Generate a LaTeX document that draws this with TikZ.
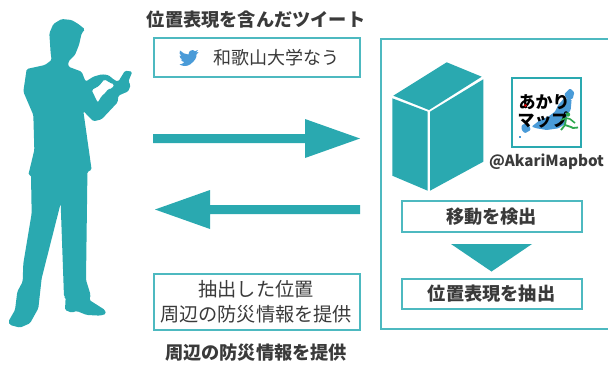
\documentclass[tikz,border=0pt]{standalone}
\usepackage{fontspec}
\setmainfont{Noto Sans CJK JP}
\definecolor{teal1}{HTML}{2AA9B0}
\definecolor{edge1}{HTML}{4DB9C0}
\definecolor{ink}{HTML}{3A3A3A}
\definecolor{blue1}{HTML}{4A9BD8}
\definecolor{green1}{HTML}{2FA84F}
\tikzset{
  x=1pt,y=-1pt,
  solid1/.style={fill=teal1,draw=none},
  panel/.style={draw=edge1,line width=1.7pt,fill=white},
  head1/.style={font=\bfseries\fontsize{18.2}{20}\selectfont,text=ink,inner sep=0pt},
  body1/.style={font=\fontsize{19.2}{25}\selectfont,text=ink,inner sep=0pt,align=center},
  logotext/.style={inner sep=0pt,font=\bfseries\fontsize{17}{18}\selectfont,text=black},
}
\begin{document}
\begin{tikzpicture}
\useasboundingbox (0,0) rectangle (608,365);
% man (reference zoom coordinates /3)
\begin{scope}[x=0.3333pt,y=-0.3333pt]
\fill[teal1,even odd rule,rounded corners=1.5pt]
 (152,160)--(148,100)--(160,72)--(185,57)--(215,60)--(235,72)--(255,88)--(245,100)--(237,135)--(225,165)--(205,185)--(205,200)--(245,215)--(257,245)
 --(280,230)--(305,223)--(325,225)--(343,240)--(355,245)--(375,212)--(397,215)--(385,245)--(392,255)--(385,274)--(355,287)--(353,307)--(305,358)--(280,364)--(250,333)
 --(275,510)--(262,515)--(262,540)--(258,840)--(272,885)--(268,900)--(315,930)--(318,942)--(300,947)--(260,945)--(230,933)--(215,938)--(195,930)--(197,892)--(192,890)
 --(182,610)--(125,835)--(115,925)--(90,970)--(60,983)--(30,975)--(25,965)--(45,930)--(52,875)--(68,845)--(70,790)--(95,640)--(93,525)--(85,525)--(103,450)--(100,345)
 --(70,275)--(80,207)--(135,195)--(155,180)--cycle
 (275,270)--(297,258)--(313,238)--(337,252)--(343,252)--(337,265)--(323,268)--(317,278)--(305,288)--(293,308)--cycle;
\end{scope}
% panels
\node[panel,minimum width=206pt,minimum height=39pt,inner sep=0pt] (tweetbox) at (257,57.5) {};
\draw[panel,line width=2pt] (610,38.5) -- (380.5,38.5) -- (380.5,328.5) -- (610,328.5);
\node[panel,minimum width=206pt,minimum height=56pt,inner sep=0pt] (infobox) at (257,302) {};
\node[panel,minimum width=180pt,minimum height=31pt,inner sep=0pt] (movebox) at (492,216.5) {};
\node[panel,minimum width=180pt,minimum height=30pt,inner sep=0pt] (extractbox) at (492,294) {};
% texts
\node[head1] (title) at (256,20) {位置表現を含んだツイート};
\node[body1,anchor=west,font=\fontsize{18}{24}\selectfont] (tweet) at (213,57.5) {和歌山大学なう};
\node[body1] (info) at (256,302) {抽出した位置\\周辺の防災情報を提供};
\node[head1] (foot) at (256,353) {周辺の防災情報を提供};
\node[head1] (move) at (491.5,216.5) {移動を検出};
\node[head1] (extract) at (491.5,294) {位置表現を抽出};
\node[inner sep=0pt,text=ink,font=\bfseries\fontsize{15.2}{16}\selectfont] (bot) at (546.5,162) {@AkariMapbot};
% twitter bird
\fill[blue1] (179.5,64.5) .. controls (183,66.5) and (187,66.5) .. (190,64.5)
  .. controls (195,61) and (197,57) .. (196.5,54.5) .. controls (197.5,54) and (198,53) .. (198.5,52)
  .. controls (197.5,52.3) and (197,52.5) .. (196,52.5) .. controls (197,52) and (197.5,51) .. (198,50)
  .. controls (197,50.6) and (196,51) .. (195,51.2) .. controls (193,49) and (188.5,50) .. (188.5,54.5)
  .. controls (185,54.5) and (182.5,52.8) .. (180,50.5) .. controls (179,52.5) and (179.5,54.5) .. (181.5,56)
  .. controls (180.5,56) and (180,55.8) .. (179.5,55.5) .. controls (179.5,57.5) and (181,59) .. (182.5,59.5)
  .. controls (182,59.7) and (181.5,59.7) .. (180.8,59.6) .. controls (181.5,61) and (183,62) .. (184.5,62)
  .. controls (183,63.5) and (181.5,64.3) .. (179.5,64.5) -- cycle;
% arrows
\fill[solid1] (153,134)--(305,134)--(305,119)--(360,138.5)--(305,158)--(305,143)--(153,143)--cycle;
\fill[solid1] (360,205)--(210,205)--(210,190)--(155,209.5)--(210,229)--(210,214)--(360,214)--cycle;
\fill[solid1] (451,244)--(532,244)--(491.5,271.5)--cycle;
% server block
\fill[solid1] (393.3,95.7)--(446.7,62.3)--(481.7,76.7)--(429,110)--cycle;
\fill[solid1] (392.3,98.3)--(427.7,111.7)--(427.7,190.7)--(392.3,175.7)--cycle;
\fill[solid1] (430,111.7)--(483.3,79.3)--(483.3,161.7)--(430,190.7)--cycle;
% logo
\node[draw=teal1,line width=1.5pt,fill=white,minimum size=69pt,inner sep=0pt] (logo) at (546.7,112.5) {};
\begin{scope}[shift={(380,30)},x=0.3333pt,y=-0.3333pt]
\fill[blue1,rounded corners=1pt] (553,192)--(570,175)--(583,187)--(578,207)--(560,207)--cycle;
\fill[blue1,rounded corners=1pt] (535,225)--(552,205)--(575,208)--(572,240)--(562,255)--(558,280)--(535,295)--(500,300)--(470,295)--(455,290)--(480,270)--(505,260)--(525,245)--cycle;
\fill[blue1,rounded corners=1pt] (425,285)--(445,278)--(452,300)--(435,310)--(425,300)--cycle;
\fill[blue1] (416,318) rectangle (423,324);
\end{scope}
\node[logotext] (logo1) at (544,102) {あかり};
\node[logotext] (logo2) at (543,120.5) {マップ};
\fill[red!80!black] (525.5,105.5) circle (1.6);
% runner
\fill[green1] (568,114.5) circle (2.2);
\draw[green1,line width=1.6pt,line join=round] (561,120)--(566,118)--(570,119)--(575,123);
\draw[green1,line width=1.8pt,line join=round] (566,118)--(565,125)--(561,130);
\draw[green1,line width=1.8pt,line join=round] (565,125)--(571,127)--(573,128)--(578,127.5);
\end{tikzpicture}
\end{document}
